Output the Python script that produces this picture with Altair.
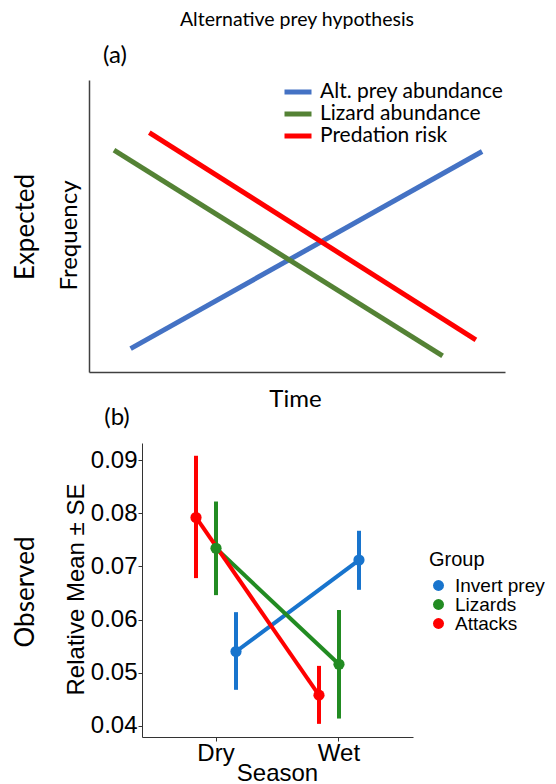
import altair as alt
import pandas as pd

# ---------------- Panel (a): expected (conceptual) lines ----------------
series_a = ["Alt. prey abundance", "Lizard abundance", "Predation risk"]
colors_a = ["#4472C4", "#548235", "#FF0000"]
time_start = [0.10, 0.06, 0.145]
time_end = [0.945, 0.85, 0.93]
freq_start = [0.08, 0.76, 0.82]
freq_end = [0.755, 0.055, 0.11]

# ---------------- Panel (b): observed means ± SE ----------------
seasons = ["Dry", "Wet"]
groups = ["Invert prey", "Lizards", "Attacks"]
colors_b = ["#1874CD", "#228B22", "#FF0000"]
dodge_order = ["Attacks", "Lizards", "Invert prey"]
mean_dry = [0.0540, 0.0734, 0.0792]
mean_wet = [0.0712, 0.0516, 0.0458]
lo_dry = [0.0468, 0.0646, 0.0678]
hi_dry = [0.0614, 0.0822, 0.0908]
lo_wet = [0.0656, 0.0414, 0.0404]
hi_wet = [0.0767, 0.0618, 0.0513]
y_ticks = [0.04, 0.05, 0.06, 0.07, 0.08, 0.09]

CAL = "Lato"
ARL = "Liberation Sans"

df_a = pd.DataFrame({
    "series": series_a + series_a,
    "time": time_start + time_end,
    "freq": freq_start + freq_end,
})

rows = []
for i, g in enumerate(groups):
    rows.append({"Season": "Dry", "Group": g, "mean": mean_dry[i], "lo": lo_dry[i], "hi": hi_dry[i]})
    rows.append({"Season": "Wet", "Group": g, "mean": mean_wet[i], "lo": lo_wet[i], "hi": hi_wet[i]})
df_b = pd.DataFrame(rows)

# ---------- top chart ----------
lines_a = alt.Chart(df_a).mark_line(strokeWidth=5, strokeCap="butt").encode(
    x=alt.X("time:Q", scale=alt.Scale(domain=[0, 1], nice=False),
            axis=alt.Axis(title="Time", labels=False, ticks=False, grid=False,
                          domainColor="#404040", domainWidth=1.5,
                          titleFont=CAL, titleFontSize=24, titleFontWeight="normal",
                          titleColor="black", titleX=206, titleY=27,
                          titleBaseline="middle", titleAlign="center")),
    y=alt.Y("freq:Q", scale=alt.Scale(domain=[0, 1], nice=False),
            axis=alt.Axis(title="Frequency", labels=False, ticks=False, grid=False,
                          domainColor="#404040", domainWidth=1.5,
                          titleFont=CAL, titleFontSize=24, titleFontWeight="normal",
                          titleColor="black", titleX=-20, titleY=155, titleAngle=270,
                          titleBaseline="middle", titleAlign="center")),
    color=alt.Color("series:N", scale=alt.Scale(domain=series_a, range=colors_a),
                    legend=alt.Legend(title=None, orient="none", legendX=193, legendY=1,
                                      symbolType="stroke", symbolStrokeWidth=5, symbolSize=729,
                                      labelFont=CAL, labelFontSize=21, labelColor="black",
                                      labelLimit=0, labelOffset=6, clipHeight=22,
                                      rowPadding=0, padding=0)),
    detail="series:N",
)

def label(text, x, y, size, font=CAL, angle=0):
    return alt.Chart(pd.DataFrame({"t": [text]})).mark_text(
        font=font, fontSize=size, color="black", angle=angle, baseline="middle", align="center"
    ).encode(x=alt.value(x), y=alt.value(y), text="t:N")

top = alt.layer(
    lines_a,
    label("Alternative prey hypothesis", 208, -60, 19.5),
    label("(a)", 26, -24, 24),
    label("Expected", -63, 147, 26, angle=270),
).properties(width=416, height=292)

# ---------- bottom chart ----------
xb = alt.X("Season:N", sort=seasons,
           scale=alt.Scale(type="band", range=[53, 324], paddingInner=0.512, paddingOuter=0.358),
           axis=alt.Axis(title="Season", labelAngle=0, grid=False,
                         labelFont=ARL, labelFontSize=24, labelColor="black", labelPadding=0,
                         tickSize=4, tickColor="#333333", domainColor="#333333", domainWidth=1,
                         titleFont=ARL, titleFontSize=24, titleFontWeight="normal", titleColor="black",
                         titleX=188, titleY=36, titleBaseline="middle", titleAlign="center"))
xo = alt.XOffset("Group:N", sort=dodge_order, scale=alt.Scale(paddingInner=0, paddingOuter=0))
ysc = alt.Scale(domain=[0.03793, 0.0932], nice=False, zero=False)
yb = alt.Y("mean:Q", scale=ysc,
           axis=alt.Axis(title="Relative Mean ± SE", values=y_ticks, format=".2f", grid=False,
                         offset=-53, labelFont=ARL, labelFontSize=24, labelColor="black",
                         labelPadding=1, tickSize=4, tickColor="#333333",
                         domainColor="#333333", domainWidth=1,
                         titleFont=ARL, titleFontSize=24, titleFontWeight="normal", titleColor="black",
                         titleX=-66, titleY=146, titleAngle=270, titleBaseline="middle",
                         titleAlign="center"))
cscale = alt.Scale(domain=groups, range=colors_b)

base_b = alt.Chart(df_b)
err = base_b.mark_rule(strokeWidth=4).encode(
    x=xb, xOffset=xo, y=alt.Y("lo:Q", scale=ysc), y2="hi:Q",
    stroke=alt.Stroke("Group:N", scale=cscale, legend=None))
ln = base_b.mark_line(strokeWidth=4).encode(
    x=xb, xOffset=xo, y=yb, detail="Group:N",
    stroke=alt.Stroke("Group:N", scale=cscale, legend=None))
pts = base_b.mark_circle(size=125, opacity=1).encode(
    x=xb, xOffset=xo, y=alt.Y("mean:Q", scale=ysc),
    color=alt.Color("Group:N", scale=cscale,
                    legend=alt.Legend(title="Group", orient="none", legendX=340, legendY=107,
                                      symbolType="circle", symbolSize=120, symbolOpacity=1,
                                      labelFont=ARL, labelFontSize=19, labelColor="black",
                                      labelLimit=0,
                                      titleFont=ARL, titleFontSize=20, titleFontWeight="normal",
                                      titleColor="black", titlePadding=7, labelOffset=7,
                                      clipHeight=17, rowPadding=-2, padding=0)))

bottom = alt.layer(
    err, ln, pts,
    label("Observed", -63, 149, 26, angle=270),
    label("(b)", 28, -25, 24),
).properties(width=324, height=294)

chart = alt.vconcat(top, bottom, spacing=71, bounds="flush").properties(
    padding={"left": 5, "top": 2, "right": 0, "bottom": 0}
).configure_view(stroke=None).resolve_scale(color="independent", x="independent", y="independent")

chart.save("out.html", embed_options={"renderer": "svg", "actions": False})
